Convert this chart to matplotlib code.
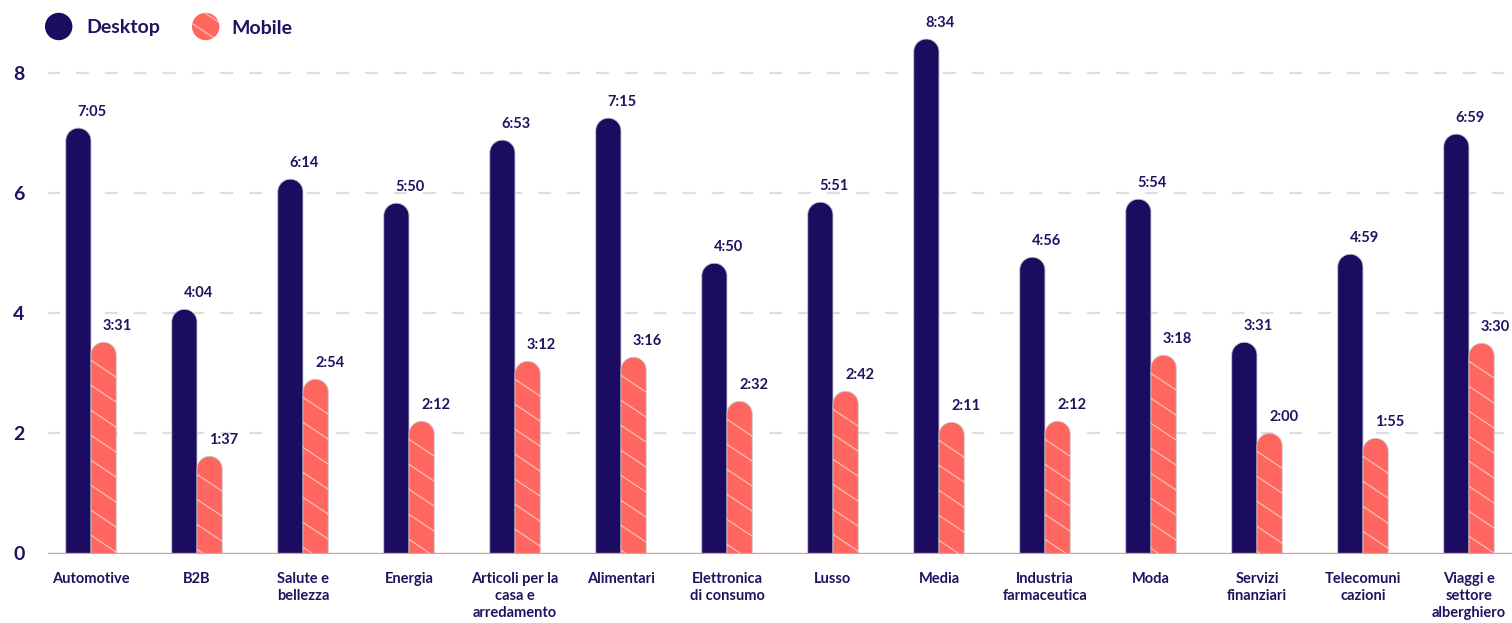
import matplotlib
matplotlib.use("Agg")
import matplotlib.pyplot as plt
from matplotlib.path import Path
from matplotlib.patches import PathPatch, Circle
from matplotlib.lines import Line2D
import numpy as np

# ---- data -------------------------------------------------------------
categories = [
    "Automotive", "B2B", "Salute e\nbellezza", "Energia",
    "Articoli per la\ncasa e\narredamento", "Alimentari",
    "Elettronica\ndi consumo", "Lusso", "Media",
    "Industria\nfarmaceutica", "Moda", "Servizi\nfinanziari",
    "Telecomuni\ncazioni", "Viaggi e\nsettore\nalberghiero",
]
desktop_times = ["7:05", "4:04", "6:14", "5:50", "6:53", "7:15", "4:50",
                 "5:51", "8:34", "4:56", "5:54", "3:31", "4:59", "6:59"]
mobile_times = ["3:31", "1:37", "2:54", "2:12", "3:12", "3:16", "2:32",
                "2:42", "2:11", "2:12", "3:18", "2:00", "1:55", "3:30"]
y_ticks = [0, 2, 4, 6, 8]
series_names = ["Desktop", "Mobile"]


def to_minutes(t):
    m, s = t.split(":")
    return int(m) + int(s) / 60.0


desktop = [to_minutes(t) for t in desktop_times]
mobile = [to_minutes(t) for t in mobile_times]

# ---- style ------------------------------------------------------------
NAVY = "#1b0c62"
CORAL = "#ff6660"
TEXT = "#1f1360"
GRID = "#dedede"
BASE = "#f1909c"
EDGE = "#c6c6c6"
plt.rcParams["font.family"] = ["Lato", "DejaVu Sans"]

W, H = 1512, 623
fig = plt.figure(figsize=(W / 100, H / 100), dpi=100)
ax = fig.add_axes([48 / W, 69.5 / H, 1464 / W, 528.5 / H])
ax.set_xlim(-0.4057, 13.406)
ax.set_ylim(0, 8.8)
for s in ax.spines.values():
    s.set_visible(False)

# pixel scale of the data units
sx = ax.bbox.width / (ax.get_xlim()[1] - ax.get_xlim()[0])
sy = ax.bbox.height / (ax.get_ylim()[1] - ax.get_ylim()[0])

bw = 0.238                      # width of one bar (data units)
ry = (bw * sx / 2) / sy         # rounded cap height in data units


def rounded_bar(xc, h, color):
    x0, x1 = xc - bw / 2, xc + bw / 2
    yc = max(h - ry, 0)
    th = np.linspace(np.pi, 0, 48)
    verts = [(x0, 0), (x0, yc)]
    verts += list(zip(xc + (bw / 2) * np.cos(th), yc + ry * np.sin(th)))
    verts += [(x1, 0), (x0, 0)]
    codes = [Path.MOVETO] + [Path.LINETO] * (len(verts) - 2) + [Path.CLOSEPOLY]
    p = PathPatch(Path(verts, codes), facecolor=color, edgecolor=EDGE,
                  lw=0.6, zorder=2)
    ax.add_patch(p)
    return p


def stripe_bar(patch, xc, h):
    x0 = xc - bw / 2
    slope = (-16.7 / sy) / (25.0 / sx)
    step = 25.0 / sy
    first = 18.0 / sy
    xs = np.array([x0 - 0.1, x0 + bw + 0.1])
    k = 0
    while True:
        yl = h - first - k * step
        ys = yl + slope * (xs - x0)
        if ys[0] < -step:
            break
        ln, = ax.plot(xs, ys, color="white", alpha=0.55, lw=0.9, zorder=3,
                      solid_capstyle="butt")
        ln.set_clip_path(patch)
        k += 1


x = np.arange(len(categories))
for i in x:
    xd = i - bw / 2
    xm = i + bw / 2
    rounded_bar(xd, desktop[i], NAVY)
    pm = rounded_bar(xm, mobile[i], CORAL)
    stripe_bar(pm, xm, mobile[i])
    for xc, v, lab in ((xd, desktop[i], desktop_times[i]),
                       (xm, mobile[i], mobile_times[i])):
        ax.annotate(lab, (xc, v), xytext=(14, 16), textcoords="offset pixels",
                    ha="center", va="center", fontsize=10.5, fontweight="bold",
                    color=TEXT, zorder=5)

# dashed gridlines and baseline
gl = ax.hlines(y_ticks[1:], *ax.get_xlim(), colors=GRID, lw=1.6,
               linestyles=[(0, (5, 8))], zorder=1)
gl.set_capstyle("round")
ax.axhline(0, color=BASE, lw=1.7, zorder=4)

# axes ticks
ax.set_yticks(y_ticks)
ax.set_yticklabels([str(t) for t in y_ticks], fontsize=14, fontweight="bold",
                   color=TEXT)
ax.set_xticks(x)
ax.set_xticklabels(categories, fontsize=10.5, fontweight="bold",
                   color=TEXT, linespacing=1.3)
ax.tick_params(axis="y", length=0, pad=17)
ax.tick_params(axis="x", length=0, pad=13)

# legend
tr = fig.dpi_scale_trans
legend_items = [(series_names[0], NAVY, 58.7, 86), (series_names[1], CORAL, 205.7, 231.7)]
for name, col, cx, tx in legend_items:
    c = Circle((cx / 100, (H - 26.5) / 100), 0.137, transform=tr,
               facecolor=col, edgecolor="none")
    fig.add_artist(c)
    if col == CORAL:
        for off in (-6, 13):
            x0 = (cx - 20) / 100
            x1 = (cx + 20) / 100
            y0 = (H - 26.5 + off + 13.3) / 100
            y1 = y0 - 26.7 / 100
            ln = Line2D([x0, x1], [y0, y1], transform=tr, color="white",
                        alpha=0.55, lw=0.9)
            ln.set_clip_path(c)
            fig.add_artist(ln)
    fig.text(tx / 100, (H - 33.5) / 100, name, transform=tr, ha="left",
             va="baseline", fontsize=14, fontweight="bold", color=TEXT)

fig.savefig("out.png", dpi=100, facecolor="white")
